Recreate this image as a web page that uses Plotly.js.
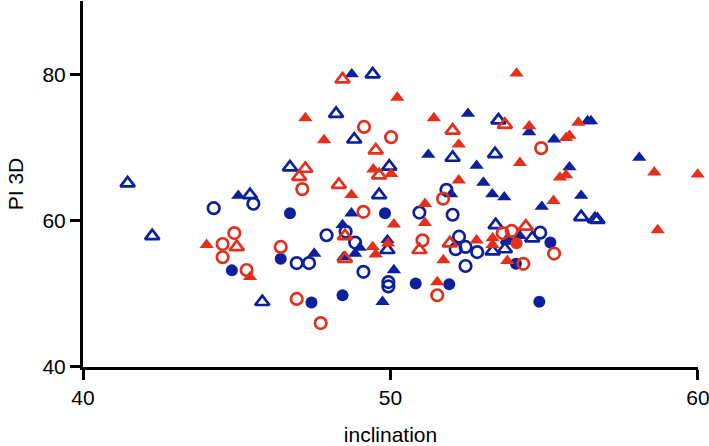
<!DOCTYPE html>
<html>
<head>
<meta charset="utf-8">
<script src="https://cdn.plot.ly/plotly-3.0.1.min.js"></script>
<style>html,body{margin:0;padding:0;background:#fff;}#chart{width:709px;height:446px;}</style>
</head>
<body>
<div id="chart"></div>
<script>
// Blue filled circles
const blueFilledCircleX = [44.84, 46.73, 49.82, 46.43, 47.43, 48.44, 50.82, 51.91, 54.08, 54.84, 55.2];
const blueFilledCircleY = [53.2, 61.0, 61.0, 54.8, 48.8, 49.8, 51.4, 51.3, 54.1, 48.9, 57.0];
// Blue open circles
const blueOpenCircleX = [44.25, 45.54, 47.92, 48.54, 48.85, 46.95, 47.35, 49.12, 49.93, 49.93, 50.94, 52.02, 51.82, 52.23, 52.12, 52.44, 52.82, 52.44, 54.87];
const blueOpenCircleY = [61.7, 62.3, 58.0, 58.5, 57.0, 54.2, 54.2, 53.0, 51.0, 51.6, 61.1, 60.8, 64.2, 57.8, 56.1, 56.4, 55.7, 53.8, 58.35];
// Blue filled triangles
const blueFilledTriX = [45.05, 48.74, 48.73, 48.44, 49.0, 48.85, 49.9, 47.52, 48.47, 49.74, 52.52, 54.51, 51.23, 52.8, 53.02, 51.97, 53.31, 53.7, 50.11, 53.78, 54.21, 55.32, 56.41, 56.52, 58.09, 55.82, 56.2, 54.92];
const blueFilledTriY = [63.4, 80.0, 61.0, 59.4, 56.3, 55.5, 57.35, 55.5, 55.0, 48.9, 74.6, 72.1, 69.0, 67.5, 65.2, 63.6, 63.6, 63.2, 53.25, 57.4, 57.9, 71.1, 73.6, 73.6, 68.6, 67.3, 63.4, 61.9];
// Blue open triangles
const blueOpenTriX = [41.45, 42.25, 45.43, 45.83, 49.42, 48.23, 48.82, 46.73, 49.96, 49.63, 49.9, 53.51, 52.02, 53.4, 53.42, 53.32, 53.83, 53.72, 54.61, 56.2, 56.65, 56.73];
const blueOpenTriY = [65.1, 57.9, 63.5, 48.9, 80.0, 74.6, 71.1, 67.3, 67.4, 63.5, 56.0, 73.7, 68.6, 69.1, 59.4, 55.8, 57.3, 56.1, 57.6, 60.5, 60.2, 60.1];
// Red filled circles
const redFilledCircleX = [54.1];
const redFilledCircleY = [56.9];
// Red open circles
const redOpenCircleX = [44.54, 44.92, 44.54, 45.32, 46.43, 47.13, 49.14, 50.02, 49.12, 46.95, 47.73, 51.71, 51.04, 53.65, 53.94, 54.32, 51.52, 54.9, 55.32];
const redOpenCircleY = [56.8, 58.3, 55.0, 53.25, 56.4, 64.3, 72.8, 71.4, 61.2, 49.3, 46.0, 63.0, 57.3, 58.3, 58.6, 54.1, 49.8, 69.9, 55.5];
// Red filled triangles
const redFilledTriX = [44.02, 45.43, 47.23, 47.84, 49.44, 48.73, 49.42, 49.52, 54.1, 50.22, 51.41, 54.51, 52.22, 54.21, 50.02, 52.22, 51.12, 50.11, 51.12, 49.92, 52.8, 51.72, 53.32, 53.32, 53.8, 51.52, 56.11, 55.71, 55.82, 58.58, 59.99, 55.51, 55.71, 55.3, 58.69];
const redFilledTriY = [56.7, 52.3, 74.0, 71.0, 67.0, 63.5, 56.4, 55.4, 80.1, 76.8, 74.0, 72.9, 70.4, 67.9, 66.4, 65.5, 62.3, 59.5, 59.7, 56.9, 57.3, 54.6, 57.6, 56.7, 54.5, 51.6, 73.4, 71.3, 71.6, 66.6, 66.3, 65.9, 66.2, 62.7, 58.7];
// Red open triangles
const redOpenTriX = [45.0, 48.44, 49.52, 47.23, 47.03, 49.63, 48.32, 48.52, 48.52, 52.02, 53.72, 50.94, 51.93, 54.4];
const redOpenTriY = [56.4, 79.3, 69.6, 67.1, 66.0, 66.2, 64.9, 57.9, 54.8, 72.3, 73.1, 56.0, 56.9, 59.2];

const xTicks = [40, 50, 60];
const yTicks = [40, 60, 80];

const BLUE = '#0c1f9d';
const RED = '#e2301d';

function tr(x, y, symbol, color, open) {
  return {
    x: x, y: y, type: 'scatter', mode: 'markers', cliponaxis: false, hoverinfo: 'skip',
    marker: open
      ? {symbol: symbol, size: symbol.startsWith('circle') ? 11.5 : 12.5, color: color, line: {color: color, width: 2.7}}
      : {symbol: symbol, size: symbol.startsWith('circle') ? 12 : 12.5, color: color, line: {width: 0}}
  };
}

const data = [
  tr(blueFilledCircleX, blueFilledCircleY, 'circle', BLUE, false),
  tr(blueOpenCircleX, blueOpenCircleY, 'circle-open', BLUE, true),
  tr(blueFilledTriX, blueFilledTriY, 'triangle-up', BLUE, false),
  tr(blueOpenTriX, blueOpenTriY, 'triangle-up-open', BLUE, true),
  tr(redFilledCircleX, redFilledCircleY, 'circle', RED, false),
  tr(redOpenCircleX, redOpenCircleY, 'circle-open', RED, true),
  tr(redFilledTriX, redFilledTriY, 'triangle-up', RED, false),
  tr(redOpenTriX, redOpenTriY, 'triangle-up-open', RED, true)
];

const font = {family: 'Liberation Sans, Arial, sans-serif', size: 21, color: '#000'};

const layout = {
  width: 709, height: 446,
  margin: {l: 83, r: 11, t: 1, b: 79, pad: 0},
  paper_bgcolor: '#fff', plot_bgcolor: '#fff',
  showlegend: false,
  font: font,
  xaxis: {
    range: [39.999, 60.001], tickvals: xTicks, ticktext: xTicks.map(String),
    showgrid: false, zeroline: false, showline: true, linecolor: '#000', linewidth: 3,
    ticks: 'outside', ticklen: 10, tickwidth: 3, tickcolor: '#000',
    tickfont: font, ticklabeloverflow: 'allow',
    title: {text: 'inclination', font: font, standoff: 20}
  },
  yaxis: {
    range: [39.999, 90], tickvals: yTicks, ticktext: yTicks.map(String),
    showgrid: false, zeroline: false, showline: true, linecolor: '#000', linewidth: 3,
    ticks: 'outside', ticklen: 10, tickwidth: 3, tickcolor: '#000',
    tickfont: font,
    title: {text: 'PI 3D', font: font, standoff: 14}
  }
};

Plotly.newPlot('chart', data, layout, {displayModeBar: false, staticPlot: true});
</script>
</body>
</html>
